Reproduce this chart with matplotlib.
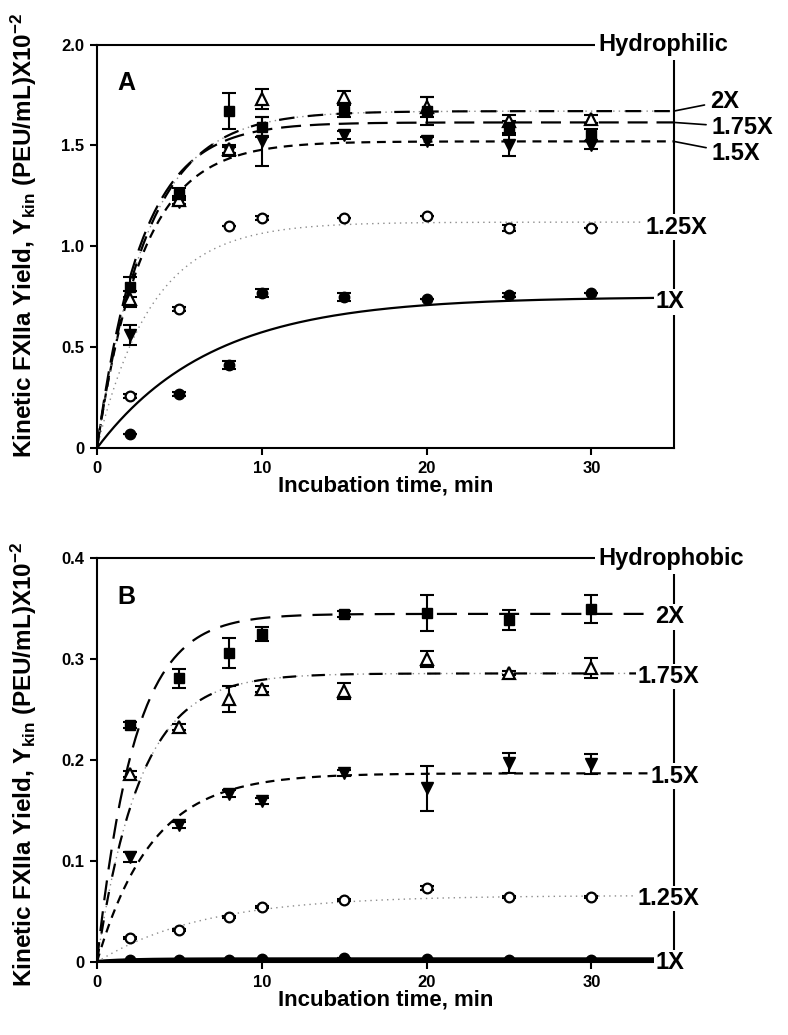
import numpy as np
import matplotlib
matplotlib.use("Agg")
import matplotlib.pyplot as plt

plt.rcParams["font.family"] = ["Liberation Sans", "DejaVu Sans"]
plt.rcParams["font.weight"] = "bold"
plt.rcParams["mathtext.fontset"] = "custom"
plt.rcParams["mathtext.rm"] = "Liberation Sans:bold"
plt.rcParams["mathtext.it"] = "Liberation Sans:bold"
plt.rcParams["mathtext.bf"] = "Liberation Sans:bold"
plt.rcParams["mathtext.default"] = "rm"

# incubation times (min)
t = [2, 5, 8, 10, 15, 20, 25, 30]
series = ["1X", "1.25X", "1.5X", "1.75X", "2X"]

# panel A, hydrophilic
a_1x = [0.07, 0.27, 0.41, 0.77, 0.75, 0.74, 0.76, 0.77]
a_1x_err = [0.0, 0.01, 0.02, 0.02, 0.02, 0.0, 0.01, 0.0]
a_125x = [0.26, 0.69, 1.10, 1.14, 1.14, 1.15, 1.09, 1.09]
a_125x_err = [0.01, 0.01, 0.0, 0.01, 0.0, 0.0, 0.015, 0.0]
a_15x = [0.56, 1.22, 1.47, 1.52, 1.55, 1.52, 1.50, 1.50]
a_15x_err = [0.05, 0.02, 0.02, 0.12, 0.02, 0.02, 0.05, 0.02]
a_175x = [0.74, 1.23, 1.48, 1.73, 1.74, 1.69, 1.62, 1.63]
a_175x_err = [0.04, 0.02, 0.02, 0.05, 0.03, 0.05, 0.03, 0.02]
a_2x = [0.80, 1.26, 1.67, 1.59, 1.67, 1.67, 1.59, 1.55]
a_2x_err = [0.05, 0.03, 0.09, 0.05, 0.03, 0.07, 0.03, 0.03]
# fitted curve parameters (plateau, rate)
a_plateau = [0.75, 1.12, 1.52, 1.614, 1.67]
a_rate = [0.145, 0.30, 0.36, 0.37, 0.33]

# panel B, hydrophobic
b_1x = [0.002, 0.002, 0.002, 0.003, 0.004, 0.003, 0.002, 0.002]
b_1x_err = [0.0] * 8
b_125x = [0.024, 0.032, 0.045, 0.055, 0.061, 0.073, 0.064, 0.064]
b_125x_err = [0.001, 0.001, 0.001, 0.001, 0.001, 0.002, 0.001, 0.001]
b_15x = [0.104, 0.136, 0.167, 0.160, 0.187, 0.172, 0.197, 0.196]
b_15x_err = [0.005, 0.003, 0.003, 0.003, 0.003, 0.022, 0.01, 0.01]
b_175x = [0.186, 0.233, 0.261, 0.271, 0.269, 0.300, 0.286, 0.291]
b_175x_err = [0.003, 0.003, 0.013, 0.003, 0.008, 0.008, 0.002, 0.01]
b_2x = [0.235, 0.281, 0.306, 0.325, 0.345, 0.346, 0.339, 0.350]
b_2x_err = [0.003, 0.009, 0.015, 0.007, 0.003, 0.018, 0.01, 0.014]
b_plateau = [0.0025, 0.066, 0.187, 0.286, 0.345]
b_rate = [0.5, 0.155, 0.30, 0.38, 0.44]

a_yticks = [0, 0.5, 1.0, 1.5, 2.0]
a_yticklabels = ["0", "0.5", "1.0", "1.5", "2.0"]
b_yticks = [0, 0.1, 0.2, 0.3, 0.4]
b_yticklabels = ["0", "0.1", "0.2", "0.3", "0.4"]
xticks = [0, 10, 20, 30]

markers = {
    "1X": dict(marker="o", mfc="black", mec="black", ms=7.5),
    "1.25X": dict(marker="o", mfc="white", mec="black", ms=7, mew=1.6),
    "1.5X": dict(marker="v", mfc="black", mec="black", ms=8),
    "1.75X": dict(marker="^", mfc="white", mec="black", ms=8, mew=1.6),
    "2X": dict(marker="s", mfc="black", mec="black", ms=7),
}

fig = plt.figure(figsize=(7.88, 10.35), dpi=100)
ax1 = fig.add_axes([0.123, 0.567, 0.732, 0.390])
ax2 = fig.add_axes([0.123, 0.0705, 0.732, 0.390])

tt = np.linspace(0, 35, 300)


def draw_curves(ax, plateau, rate, styles):
    for p, k, st in zip(plateau, rate, styles):
        for s in st:
            ax.plot(tt, p * (1 - np.exp(-k * tt)), zorder=2, **s)


def draw_points(ax, data):
    for name, y, e in data:
        ax.errorbar(t, y, yerr=e, fmt="none", ecolor="black", elinewidth=1.5,
                    capsize=5, capthick=1.5, zorder=3)
        ax.plot(t, y, ls="none", zorder=4, **markers[name])


dotted = dict(color="0.55", lw=1.0, ls=(0, (1, 3)))
a_styles = [
    [dict(color="black", lw=1.6, ls="-")],
    [dotted],
    [dict(color="black", lw=1.6, ls=(0, (4, 3)))],
    [dict(color="black", lw=1.6, ls=(0, (9, 4)))],
    [dotted, dict(color="black", lw=1.6, ls=(0, (7, 6)))],
]
b_styles = [
    [dict(color="black", lw=3.2, ls="-")],
    [dotted],
    [dict(color="black", lw=1.6, ls=(0, (4, 3)))],
    [dotted, dict(color="black", lw=1.6, ls=(0, (6, 7)))],
    [dict(color="black", lw=1.6, ls=(0, (9, 5)))],
]

draw_curves(ax1, a_plateau, a_rate, a_styles)
draw_points(ax1, [("1X", a_1x, a_1x_err), ("1.25X", a_125x, a_125x_err),
                  ("1.5X", a_15x, a_15x_err), ("1.75X", a_175x, a_175x_err),
                  ("2X", a_2x, a_2x_err)])
draw_curves(ax2, b_plateau, b_rate, b_styles)
draw_points(ax2, [("1X", b_1x, b_1x_err), ("1.25X", b_125x, b_125x_err),
                  ("1.5X", b_15x, b_15x_err), ("1.75X", b_175x, b_175x_err),
                  ("2X", b_2x, b_2x_err)])

ylabel = r"Kinetic FXIIa Yield, Y$_{\mathrm{kin}}$ (PEU/mL)X10$^{\mathrm{-2}}$"
white = dict(facecolor="white", edgecolor="none", pad=1.0)

for ax, ymax, yt, ytl, letter, title, ly in [
        (ax1, 2.0, a_yticks, a_yticklabels, "A", "Hydrophilic", 0.527),
        (ax2, 0.4, b_yticks, b_yticklabels, "B", "Hydrophobic", 0.49)]:
    ax.set_xlim(0, 35)
    ax.set_ylim(0, ymax)
    ax.set_xticks(xticks)
    ax.set_yticks(yt)
    ax.set_yticklabels(ytl)
    ax.tick_params(direction="out", length=5, width=1.5, labelsize=12, pad=4)
    for sp in ax.spines.values():
        sp.set_linewidth(1.5)
    ax.set_xlabel("Incubation time, min", fontsize=16, fontweight="bold", labelpad=0)
    ax.set_ylabel(ylabel, fontsize=17.5, fontweight="bold")
    ax.yaxis.set_label_coords(-0.1, ly)
    ax.text(0.035, 0.905, letter, transform=ax.transAxes, fontsize=18,
            fontweight="bold", va="center", ha="left")
    ax.text(0.87, 1.0, title, transform=ax.transAxes, fontsize=17,
            fontweight="bold", va="center", ha="left", zorder=10,
            bbox=dict(facecolor="white", edgecolor="none", pad=3))

# right-hand labels, panel A
for name, tx, ty in [("2X", 37.2, 1.72), ("1.75X", 37.3, 1.59), ("1.5X", 37.3, 1.46)]:
    i = series.index(name)
    ax1.annotate(name, xy=(35, a_plateau[i]), xytext=(tx, ty), fontsize=17,
                 fontweight="bold", va="center", ha="left", annotation_clip=False,
                 arrowprops=dict(arrowstyle="-", lw=1.2, shrinkA=2, shrinkB=0))
for name, tx in [("1.25X", 33.3), ("1X", 33.9)]:
    i = series.index(name)
    ax1.text(tx, a_plateau[i] - 0.025, name, fontsize=17, fontweight="bold",
             va="center", ha="left", zorder=10, clip_on=False, bbox=white)

# right-hand labels, panel B
for name, tx in [("2X", 33.9), ("1.75X", 32.8), ("1.5X", 33.6), ("1.25X", 32.8), ("1X", 33.9)]:
    i = series.index(name)
    ax2.text(tx, b_plateau[i] - 0.003, name, fontsize=17, fontweight="bold",
             va="center", ha="left", zorder=10, clip_on=False, bbox=white)

fig.savefig("out.png", dpi=100)
